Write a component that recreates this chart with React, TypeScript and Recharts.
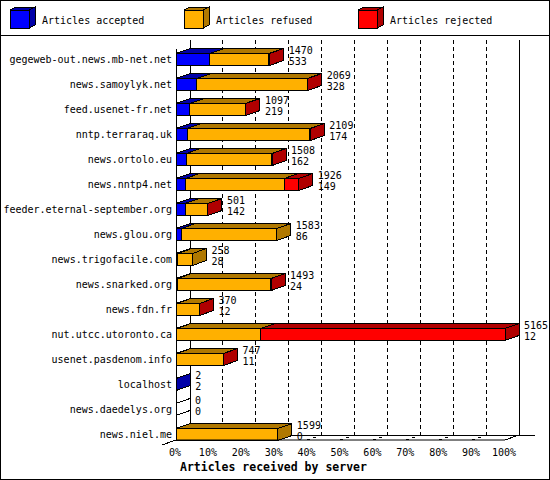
import React from 'react';
import { BarChart, Bar, XAxis, YAxis, CartesianGrid } from 'recharts';

const servers = [
  'gegeweb-out.news.mb-net.net',
  'news.samoylyk.net',
  'feed.usenet-fr.net',
  'nntp.terraraq.uk',
  'news.ortolo.eu',
  'news.nntp4.net',
  'feeder.eternal-september.org',
  'news.glou.org',
  'news.trigofacile.com',
  'news.snarked.org',
  'news.fdn.fr',
  'nut.utcc.utoronto.ca',
  'usenet.pasdenom.info',
  'localhost',
  'news.daedelys.org',
  'news.niel.me',
];
const accepted = [533, 328, 219, 174, 162, 149, 142, 86, 28, 24, 12, 12, 11, 2, 0, 0];
const refused = [927, 1733, 870, 1929, 1341, 1552, 355, 1497, 230, 1466, 356, 1320, 733, 0, 0, 1599];
const rejected = [10, 8, 8, 6, 5, 225, 4, 0, 0, 3, 2, 3833, 3, 0, 0, 0];
const tickPercents = [0, 10, 20, 30, 40, 50, 60, 70, 80, 90, 100];
const seriesNames = ['Articles accepted', 'Articles refused', 'Articles rejected'];
const seriesKeys = ['accepted', 'refused', 'rejected'];
const frontColors = ['#0000FF', '#FFB000', '#FF0000'];
const sideColors = ['#0000A8', '#B07800', '#B00000'];

const data = servers.map((name, i) => ({
  name,
  accepted: accepted[i],
  refused: refused[i],
  rejected: rejected[i],
  total: accepted[i] + refused[i] + rejected[i],
}));
const maxTotal = Math.max(...data.map((d) => d.total));
const xTicks = tickPercents.map((p) => (maxTotal * p) / 100);

const DX = 14;
const DY = 5;
const SHIFT = 6.5;
const FONT = '"DejaVu Sans Mono", "Liberation Mono", monospace';

function lastNonZero(payload: any) {
  let l = -1;
  seriesKeys.forEach((k, j) => {
    if (payload[k] > 0) l = j;
  });
  return l;
}

function makeShape(k: number) {
  return (props: any) => {
    const { x, y, width, height, payload } = props;
    const w = Math.max(0, width || 0);
    const h = height;
    const top = y + SHIFT;
    const last = lastNonZero(payload);
    const els: any[] = [];
    if (payload[seriesKeys[k]] > 0) {
      els.push(
        <polygon
          key="t"
          points={`${x},${top} ${x + DX},${top - DY} ${x + w + DX},${top - DY} ${x + w},${top}`}
          fill={sideColors[k]}
          stroke="#000"
          strokeWidth={1}
          shapeRendering="crispEdges"
        />
      );
      els.push(
        <rect
          key="f"
          x={x}
          y={top}
          width={w}
          height={h}
          fill={frontColors[k]}
          stroke="#000"
          strokeWidth={1}
          shapeRendering="crispEdges"
        />
      );
    }
    const sidePts = `${x + w},${top} ${x + w + DX},${top - DY} ${x + w + DX},${top + h - DY} ${x + w},${top + h}`;
    if (k === last) {
      els.push(
        <polygon key="s" points={sidePts} fill={sideColors[k]} stroke="#000" strokeWidth={1} shapeRendering="crispEdges" />
      );
    }
    if (last === -1 && k === 0) {
      els.push(
        <polygon key="s0" points={sidePts} fill="#fff" stroke="#000" strokeWidth={1} shapeRendering="crispEdges" />
      );
    }
    if (k === 2) {
      const tx = x + w + DX + 5;
      els.push(
        <text key="l1" x={tx} y={top} fontFamily={FONT} fontSize={10} fill="#000">
          {payload.total}
        </text>
      );
      els.push(
        <text key="l2" x={tx} y={top + 11} fontFamily={FONT} fontSize={10} fill="#000">
          {payload.accepted}
        </text>
      );
    }
    return <g>{els}</g>;
  };
}

const gridLine = (props: any) => {
  const { x1, y1, x2, y2, x, width, index } = props;
  const bx = x1 + DX;
  const by = y2 - DY;
  const isLeft = Math.abs(x1 - x) < 0.5;
  const isRight = Math.abs(x1 - (x + width)) < 0.5;
  if (isLeft) {
    return (
      <g key={`g${index}`} shapeRendering="crispEdges">
        <line x1={bx} y1={y1} x2={bx} y2={by} stroke="#000" />
        <line x1={x1 - DX} y1={y2 + DY} x2={bx} y2={by} stroke="#000" />
        <line x1={bx} y1={by} x2={x + width + DX + 16} y2={by} stroke="#000" />
        <line x1={x1} y1={y1 + 9} x2={x1} y2={y2} stroke="#000" />
      </g>
    );
  }
  if (isRight) {
    return (
      <g key={`g${index}`} shapeRendering="crispEdges">
        <line x1={bx} y1={y1} x2={bx} y2={by} stroke="#000" />
        <line x1={x1} y1={y2} x2={bx} y2={by} stroke="#000" />
      </g>
    );
  }
  return (
    <g key={`g${index}`} shapeRendering="crispEdges">
      <line x1={bx} y1={y1} x2={bx} y2={by} stroke="#000" strokeDasharray="4 3" />
      <line x1={x1} y1={y2} x2={bx} y2={by} stroke="#000" strokeDasharray="3 3" />
    </g>
  );
};

const YTick = (props: any) => {
  const { x, y, payload } = props;
  return (
    <text x={x} y={y + SHIFT + 3.5} textAnchor="end" fontFamily={FONT} fontSize={10} fill="#000">
      {payload.value}
    </text>
  );
};

const XTick = (props: any) => {
  const { x, y, index } = props;
  return (
    <text x={x - 1} y={y + 16} textAnchor="middle" fontFamily={FONT} fontSize={10} fill="#000">
      {`${tickPercents[index]}%`}
    </text>
  );
};

const XTitle = (props: any) => {
  const vb = props.viewBox || { x: 176, y: 440 };
  return (
    <text x={vb.x + 4} y={vb.y + 31} fontFamily={FONT} fontSize={11.5} fontWeight="bold" fill="#000">
      Articles received by server
    </text>
  );
};

const LegendBox = () => (
  <svg width={550} height={36} style={{ position: 'absolute', left: 0, top: 0 }}>
    {seriesNames.map((n, i) => {
      const cx = 10 + i * 174;
      return (
        <g key={n} shapeRendering="crispEdges">
          <polygon points={`${cx},10 ${cx + 6},7 ${cx + 25},7 ${cx + 19},10`} fill={sideColors[i]} stroke="#000" />
          <polygon points={`${cx + 19},10 ${cx + 25},7 ${cx + 25},25 ${cx + 19},28`} fill={sideColors[i]} stroke="#000" />
          <rect x={cx} y={10} width={19} height={18} fill={frontColors[i]} stroke="#000" />
          <text x={cx + 32} y={23.5} fontFamily={FONT} fontSize={10} fill="#000" shapeRendering="auto">
            {n}
          </text>
        </g>
      );
    })}
    <line x1={0} y1={35.5} x2={550} y2={35.5} stroke="#000" />
  </svg>
);

export default function App() {
  return (
    <div style={{ position: 'relative', width: 550, height: 480, background: '#fff' }}>
      <style>{`body{margin:0;background:#fff}`}</style>
      <BarChart
        width={550}
        height={480}
        data={data}
        layout="vertical"
        margin={{ top: 40, right: 45, bottom: 0, left: 0 }}
        barSize={12}
      >
        <CartesianGrid horizontal={false} vertical={gridLine} stroke="#000" />
        <XAxis
          type="number"
          domain={[0, maxTotal]}
          ticks={xTicks}
          interval={0}
          height={40}
          tickLine={false}
          tickSize={0}
          tickMargin={0}
          axisLine={{ stroke: '#000' }}
          tick={<XTick />}
          label={<XTitle />}
        />
        <YAxis
          type="category"
          dataKey="name"
          width={176}
          tickLine={false}
          tickSize={0}
          tickMargin={4}
          axisLine={false}
          interval={0}
          tick={<YTick />}
        />
        {seriesKeys.map((k, i) => (
          <Bar key={k} dataKey={k} stackId="a" fill={frontColors[i]} isAnimationActive={false} shape={makeShape(i)} />
        ))}
      </BarChart>
      <LegendBox />
      <div
        style={{
          position: 'absolute',
          left: 0,
          top: 0,
          width: 550,
          height: 480,
          border: '1px solid #000',
          boxSizing: 'border-box',
          pointerEvents: 'none',
        }}
      />
    </div>
  );
}
